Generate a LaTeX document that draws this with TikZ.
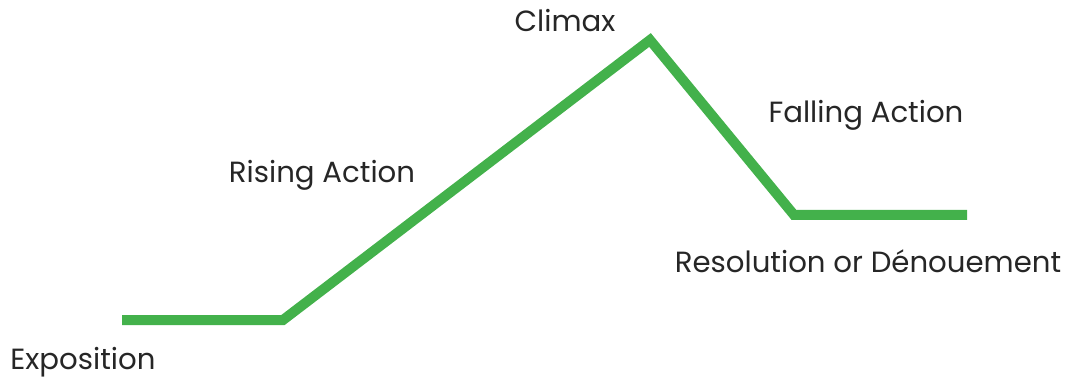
\documentclass[tikz,border=0pt]{standalone}
\usepackage{fontspec}
\setmainfont{Poppins}
\definecolor{arcgreen}{HTML}{43B14B}
\definecolor{labelgray}{HTML}{262626}
\begin{document}
\begin{tikzpicture}[x=1pt, y=-1pt,
  every node/.style={font=\fontsize{29.2}{33}\selectfont, text=labelgray, inner sep=0pt},
  arcline/.style={draw=arcgreen, line width=10pt, miter limit=10}]
  \useasboundingbox (0,0) rectangle (1068,379);
  % plot line
  \coordinate (start) at (122,320);
  \coordinate (rise) at (283,320);
  \coordinate (peak) at (650,40);
  \coordinate (fall) at (794,215);
  \coordinate (stop) at (967,215);
  \draw[arcline] (start) -- (rise) -- (peak) -- (fall) -- (stop);
  % labels
  \node[anchor=base] (expo) at (83,369) {Exposition};
  \node[anchor=base] (rising) at (322,183) {Rising Action};
  \node[anchor=base] (climax) at (565,32) {Climax};
  \node[anchor=base] (falling) at (866,123) {Falling Action};
  \node[anchor=base] (resol) at (868,273) {Resolution or Dénouement};
\end{tikzpicture}
\end{document}
